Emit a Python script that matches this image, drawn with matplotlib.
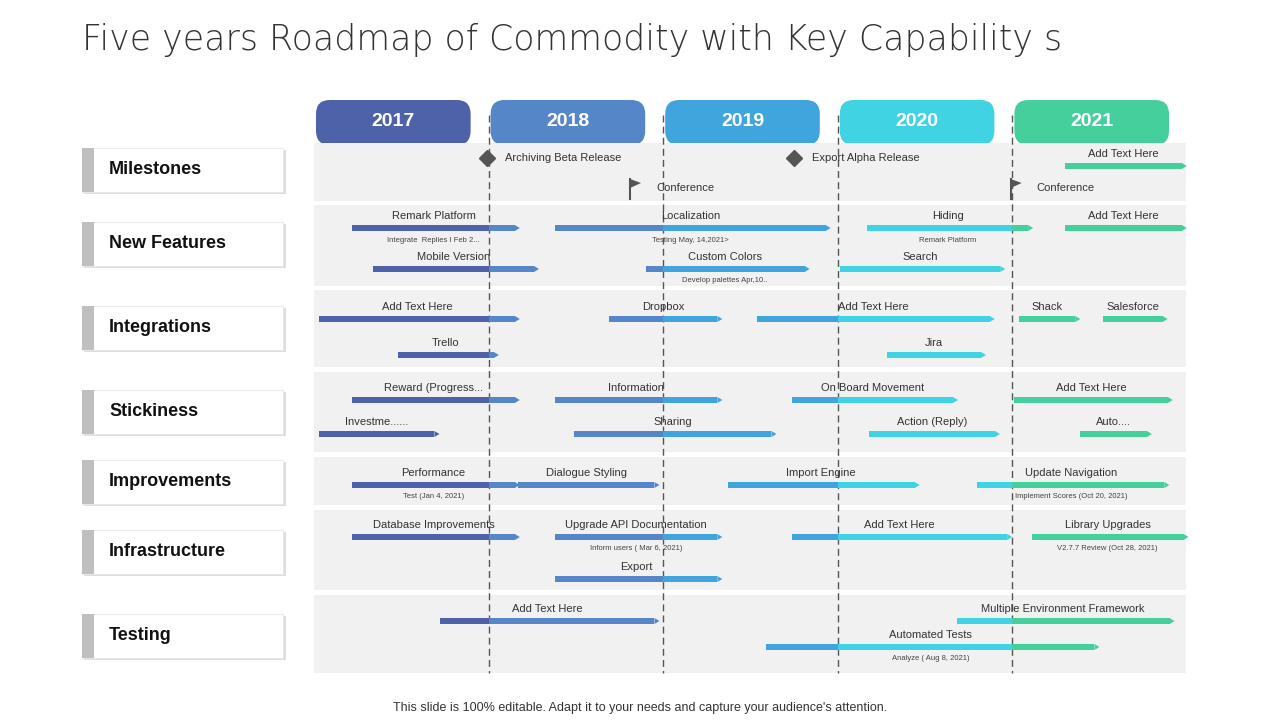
import matplotlib
matplotlib.use("Agg")
import matplotlib.pyplot as plt
from matplotlib.patches import FancyBboxPatch, Rectangle, Polygon

plt.rcParams["font.family"] = "Liberation Sans"

years = ["2017", "2018", "2019", "2020", "2021"]
year_colors = ["#4d62a8", "#5586c8", "#3fa5dc", "#3fd3e3", "#45cf9c"]
row_names = ["Milestones", "New Features", "Integrations", "Stickiness",
             "Improvements", "Infrastructure", "Testing"]

# bars: (row, lane, start, end) in years since 2017, label, sublabel
bar_rows = [0, 1, 1, 1, 1, 1, 1, 1, 2, 2, 2, 2, 2, 2, 2,
            3, 3, 3, 3, 3, 3, 3, 3, 4, 4, 4, 4, 5, 5, 5, 5, 5, 6, 6, 6]
bar_lanes = [0, 0, 0, 0, 0, 1, 1, 1, 0, 0, 0, 0, 0, 1, 1,
             0, 0, 0, 0, 1, 1, 1, 1, 0, 0, 0, 0, 0, 0, 0, 0, 1, 0, 0, 1]
bar_start = [4.30, 0.22, 1.38, 3.17, 4.30, 0.34, 1.90, 3.01, 0.03, 1.69, 2.54, 4.04, 4.52, 0.48, 3.28,
             0.22, 1.38, 2.74, 4.01, 0.03, 1.49, 3.18, 4.39, 0.22, 1.17, 2.37, 3.80,
             0.22, 1.38, 2.74, 4.11, 1.38, 0.72, 3.68, 2.59]
bar_end = [4.97, 1.15, 2.93, 4.09, 4.97, 1.26, 2.81, 3.93, 1.15, 2.31, 3.87, 4.36, 4.86, 1.03, 3.82,
           1.15, 2.31, 3.66, 4.89, 0.69, 2.62, 3.90, 4.77, 1.15, 1.95, 3.44, 4.87,
           1.15, 2.31, 3.97, 4.98, 2.31, 1.95, 4.90, 4.47]
bar_labels = ["Add Text Here", "Remark Platform", "Localization", "Hiding", "Add Text Here",
              "Mobile Version", "Custom Colors", "Search",
              "Add Text Here", "Dropbox", "Add Text Here", "Shack", "Salesforce", "Trello", "Jira",
              "Reward (Progress...", "Information", "On Board Movement", "Add Text Here",
              "Investme......", "Sharing", "Action (Reply)", "Auto....",
              "Performance", "Dialogue Styling", "Import Engine", "Update Navigation",
              "Database Improvements", "Upgrade API Documentation", "Add Text Here", "Library Upgrades", "Export",
              "Add Text Here", "Multiple Environment Framework", "Automated Tests"]
bar_sub = ["", "Integrate  Replies I Feb 2...", "Testing May, 14,2021>", "Remark Platform", "",
           "", "Develop palettes Apr,10..", "",
           "", "", "", "", "", "", "",
           "", "", "", "", "", "", "", "",
           "Test (Jan 4, 2021)", "", "", "Implement Scores (Oct 20, 2021)",
           "", "Inform users ( Mar 6, 2021)", "", "V2.7.7 Review (Oct 28, 2021)", "",
           "", "", "Analyze ( Aug 8, 2021)"]

milestone_t = [0.99, 2.75]
milestone_labels = ["Archiving Beta Release", "Export Alpha Release"]
flag_t = [1.81, 3.99]
flag_labels = ["Conference", "Conference"]

X0, YW = 314, 174.6
def tx(t): return X0 + t * YW
row_top = [143, 205, 290, 372, 457, 510, 595]
row_bot = [201, 286, 367, 452, 505, 590, 673]
lane_y = {0: [166, 188], 1: [228, 269], 2: [319, 355], 3: [400, 434],
          4: [485, 520], 5: [537, 579], 6: [621, 647]}
label_y = [170, 244, 328, 412, 482, 552, 636]

fig = plt.figure(figsize=(12.8, 7.2), dpi=100)
ax = fig.add_axes([0, 0, 1, 1])
ax.set_xlim(0, 1280); ax.set_ylim(720, 0); ax.axis("off")

ax.text(82, 40, "Five years Roadmap of Commodity with Key Capability s", fontsize=25,
        color="#333333", va="center", family="DejaVu Sans", fontweight="light")
ax.text(640, 708, "This slide is 100% editable. Adapt it to your needs and capture your audience's attention.",
        fontsize=9, color="#333333", ha="center", va="center")

# headers
for i, (y, c) in enumerate(zip(years, year_colors)):
    x = tx(i) + 2
    ax.add_patch(FancyBboxPatch((x, 100), YW - 20, 45, boxstyle="round,pad=0,rounding_size=14",
                                fc=c, ec="none", zorder=1))
    ax.text(x + (YW - 20) / 2, 121, y, color="white", fontsize=14, fontweight="bold",
            ha="center", va="center", zorder=2)

# rows
for r in range(7):
    ax.add_patch(Rectangle((X0, row_top[r]), 5 * YW - 1, row_bot[r] - row_top[r], fc="#f1f1f1", ec="none", zorder=2))
    ax.add_patch(Rectangle((84, label_y[r] - 20), 202, 44, fc="#dddddd", ec="none", zorder=2))
    ax.add_patch(Rectangle((82, label_y[r] - 22), 201, 44, fc="white", ec="#e6e6e6", lw=0.6, zorder=3))
    ax.add_patch(Rectangle((82, label_y[r] - 22), 12, 44, fc="#bfbfbf", ec="none", zorder=4))
    ax.text(109, label_y[r], row_names[r], fontsize=13, fontweight="bold", va="center", color="#111111", zorder=5)

for k in range(1, 5):
    ax.plot([tx(k), tx(k)], [115, 673], ls=(0, (5, 3)), color="#555555", lw=1, zorder=3)

# bars
for r, l, s, e, lab, sub in zip(bar_rows, bar_lanes, bar_start, bar_end, bar_labels, bar_sub):
    y = lane_y[r][l]
    for k in range(5):
        a, b = max(s, k), min(e, k + 1)
        if b > a:
            ax.add_patch(Rectangle((tx(a), y - 3), tx(b) - tx(a), 6, fc=year_colors[k], ec="none", zorder=4))
    ke = min(int(e), 4)
    ax.add_patch(Polygon([[tx(e), y - 3], [tx(e) + 5, y], [tx(e), y + 3]], fc=year_colors[ke], ec="none", zorder=4))
    xm = (tx(s) + tx(e)) / 2
    if lab:
        ax.text(xm, y - 12, lab, fontsize=8, ha="center", va="center", color="#333333", zorder=5)
    if sub:
        ax.text(xm, y + 12, sub, fontsize=5.5, ha="center", va="center", color="#444444", zorder=5)

for t, lab in zip(milestone_t, milestone_labels):
    ax.plot(tx(t), 158, marker="D", ms=8, color="#555555", zorder=5)
    ax.text(tx(t) + 18, 158, lab, fontsize=8, va="center", color="#333333", zorder=5)
for t, lab in zip(flag_t, flag_labels):
    x = tx(t)
    ax.plot([x, x], [179, 199], color="#555555", lw=1.5, zorder=5)
    ax.add_patch(Polygon([[x, 179], [x + 11, 183], [x, 188]], fc="#555555", ec="none", zorder=5))
    ax.text(x + 26, 188, lab, fontsize=8, va="center", color="#333333", zorder=5)

fig.savefig("out.png", dpi=100)
